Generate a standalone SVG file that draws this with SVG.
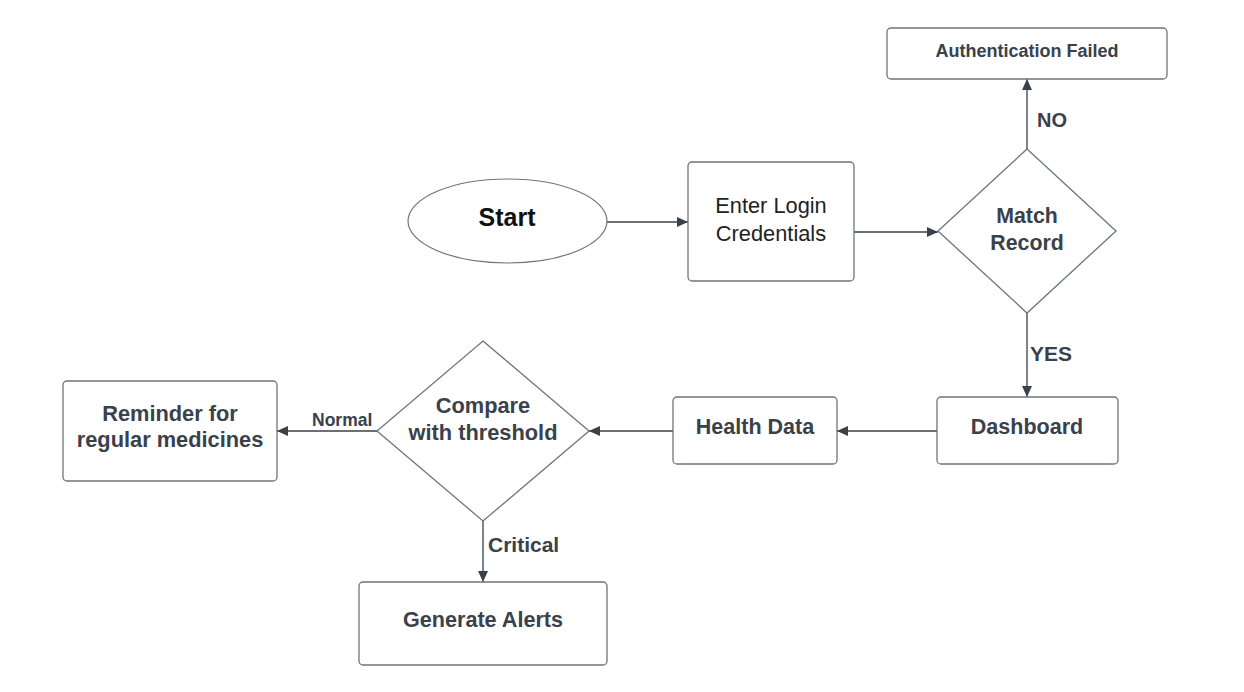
<svg xmlns="http://www.w3.org/2000/svg" width="1244" height="692" viewBox="0 0 1244 692">
<defs>
<marker id="ah" markerWidth="12" markerHeight="10" refX="11" refY="5" orient="auto" markerUnits="userSpaceOnUse">
<path d="M0,0 L11,5 L0,10 Z" fill="#3a414a"/>
</marker>
<style>
.box{fill:#fff;stroke:#6f747a;stroke-width:1.3}
.t{font-family:"Liberation Sans",Arial,sans-serif;font-weight:bold;fill:#3a414a;text-anchor:middle}
.n{font-family:"Liberation Sans",Arial,sans-serif;fill:#222;text-anchor:middle}
.lbl{font-family:"Liberation Sans",Arial,sans-serif;font-weight:bold;fill:#3a414a}
.c{fill:none;stroke:#3a414a;stroke-width:1.3;marker-end:url(#ah)}
</style>
</defs>
<rect width="1244" height="692" fill="#fff"/>
<g id="connectors">
<line class="c" x1="607" y1="222" x2="688" y2="222"/>
<line class="c" x1="854" y1="232" x2="938" y2="232"/>
<line class="c" x1="1027" y1="149" x2="1027" y2="79"/>
<line class="c" x1="1027" y1="313" x2="1027" y2="397"/>
<line class="c" x1="937" y1="431" x2="837" y2="431"/>
<line class="c" x1="673" y1="431" x2="589" y2="431"/>
<line class="c" x1="377" y1="431" x2="277" y2="431"/>
<line class="c" x1="483" y1="521" x2="483" y2="582"/>
<text class="lbl" x="1037" y="127" font-size="20">NO</text>
<text class="lbl" x="1030" y="361" font-size="21">YES</text>
<text class="lbl" x="312" y="426" font-size="17.5">Normal</text>
<text class="lbl" x="488" y="552" font-size="21">Critical</text>
</g>
<g id="start">
<ellipse cx="507.5" cy="221" rx="99.5" ry="42" fill="#fff" stroke="#6f747a" stroke-width="1.2"/>
<text x="507" y="226" font-family="'Liberation Sans',Arial,sans-serif" font-weight="bold" font-size="25" fill="#111" text-anchor="middle">Start</text>
</g>
<g id="enter-login">
<rect class="box" x="688" y="162" width="166" height="119" rx="4"/>
<text class="n" x="771" y="213" font-size="21.8">Enter Login</text>
<text class="n" x="771" y="241" font-size="21.8">Credentials</text>
</g>
<g id="match-record">
<polygon class="box" points="1027,149 1116,231 1027,313 938,231"/>
<text class="t" x="1027" y="223" font-size="21.3">Match</text>
<text class="t" x="1027" y="250" font-size="21.3">Record</text>
</g>
<g id="auth-failed">
<rect class="box" x="887" y="28" width="280" height="51" rx="4"/>
<text class="t" x="1027" y="57" font-size="18">Authentication Failed</text>
</g>
<g id="dashboard">
<rect class="box" x="937" y="397" width="181" height="67" rx="4"/>
<text class="t" x="1027" y="434" font-size="21.5">Dashboard</text>
</g>
<g id="health-data">
<rect class="box" x="673" y="397" width="164" height="67" rx="4"/>
<text class="t" x="755" y="434" font-size="21.5">Health Data</text>
</g>
<g id="compare">
<polygon class="box" points="483,341 589,431 483,521 377,431"/>
<text class="t" x="483" y="413" font-size="21.8">Compare</text>
<text class="t" x="483" y="440" font-size="21.8">with threshold</text>
</g>
<g id="reminder">
<rect class="box" x="63" y="381" width="214" height="100" rx="4"/>
<text class="t" x="170" y="421" font-size="21.8">Reminder for</text>
<text class="t" x="170" y="447" font-size="21.8">regular medicines</text>
</g>
<g id="alerts">
<rect class="box" x="359" y="582" width="248" height="83" rx="4"/>
<text class="t" x="483" y="627" font-size="21.6">Generate Alerts</text>
</g>
</svg>
